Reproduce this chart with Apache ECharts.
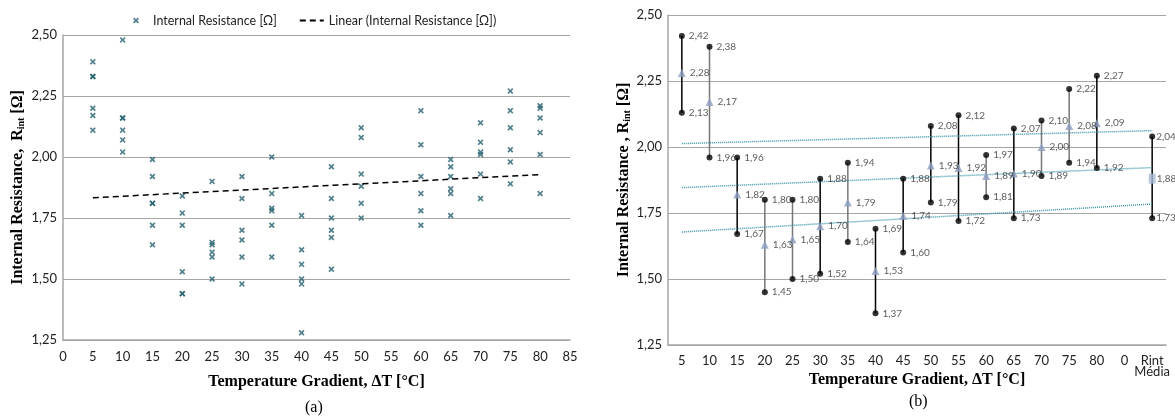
<!DOCTYPE html>
<html>
<head>
<meta charset="utf-8">
<script src="https://cdn.jsdelivr.net/npm/echarts@6/dist/echarts.min.js"></script>
<style>
  html, body { margin: 0; padding: 0; background: #fff; }
  #chart { width: 1175px; height: 417px; }
</style>
</head>
<body>
<div id="chart"></div>
<script>
// (a) scatter: internal resistance readings per temperature gradient
const gradients = [5, 10, 15, 20, 25, 30, 35, 40, 45, 50, 60, 65, 70, 75, 80];
const readings = [
  [2.39, 2.33, 2.33, 2.20, 2.17, 2.11],
  [2.48, 2.16, 2.16, 2.11, 2.07, 2.02],
  [1.99, 1.92, 1.81, 1.81, 1.72, 1.64],
  [1.84, 1.77, 1.72, 1.53, 1.44, 1.44],
  [1.90, 1.65, 1.64, 1.61, 1.59, 1.50],
  [1.92, 1.83, 1.70, 1.66, 1.59, 1.48],
  [2.00, 1.85, 1.79, 1.78, 1.72, 1.59],
  [1.76, 1.62, 1.56, 1.50, 1.48, 1.28],
  [1.96, 1.83, 1.75, 1.70, 1.67, 1.54],
  [2.12, 2.08, 1.93, 1.88, 1.81, 1.75],
  [2.19, 2.05, 1.92, 1.85, 1.78, 1.72],
  [1.99, 1.96, 1.92, 1.87, 1.85, 1.76],
  [2.14, 2.06, 2.02, 2.01, 1.93, 1.83],
  [2.27, 2.19, 2.12, 2.03, 1.98, 1.89],
  [2.21, 2.20, 2.16, 2.10, 2.01, 1.85]
];
const trendX = [5, 80];
const trendY = [1.833, 1.928];

// (b) high / low / average per category
const categories = ["5", "10", "15", "20", "25", "30", "35", "40", "45", "50", "55", "60", "65", "70", "75", "80", "0", "Rint\nMédia"];
const maxVals = [2.42, 2.38, 1.96, 1.80, 1.80, 1.88, 1.94, 1.69, 1.88, 2.08, 2.12, 1.97, 2.07, 2.10, 2.22, 2.27, null, 2.04];
const minVals = [2.13, 1.96, 1.67, 1.45, 1.50, 1.52, 1.64, 1.37, 1.60, 1.79, 1.72, 1.81, 1.73, 1.89, 1.94, 1.92, null, 1.73];
const avgVals = [2.28, 2.17, 1.82, 1.63, 1.65, 1.70, 1.79, 1.53, 1.74, 1.93, 1.92, 1.89, 1.90, 2.00, 2.08, 2.09, null, 1.88];
const maxTrend = [2.013, 2.062];
const avgTrend = [1.846, 1.922];
const minTrend = [1.678, 1.784];

const xTitle = "Temperature Gradient, ΔT [°C]";

const fmt = v => v.toFixed(2).replace(".", ",");
const tickFont = "Lato, 'Open Sans', sans-serif";
const serif = "'Liberation Serif', 'DejaVu Serif', serif";
const gridGray = "#a6a6a6";
const teal = "#27626f";
const xMark = "path://M0,2L2,0L5,3L8,0L10,2L7,5L10,8L8,10L5,7L2,10L0,8L3,5Z";
const greyStems = [1, 3, 4, 6, 11, 13, 14];
const lastIdx = categories.length - 1;

const scatterData = [];
gradients.forEach((g, i) => readings[i].forEach(v => scatterData.push([g, v])));

const stemData = maxVals.map((v, i) => [i, minVals[i], v]).filter(p => p[2] != null);
// points for (b); the "Rint Média" column gets its label tight to the marker
const pts = vals => vals.map((v, i) => [i, v]).filter(p => p[1] != null)
  .map(p => p[0] === lastIdx ? { value: p, label: { distance: 1 } } : p);

const yName = {
  b: { fontFamily: serif, fontWeight: "bold", fontSize: 16, color: "#000" },
  s: { fontFamily: serif, fontWeight: "bold", fontSize: 10, color: "#000", padding: [7, 0, 0, 0] }
};

const valueY = (gridIndex, name, gap) => ({
  type: "value",
  gridIndex,
  min: 1.25,
  max: 2.5,
  interval: 0.25,
  name,
  nameLocation: "middle",
  nameGap: gap,
  nameTextStyle: { rich: yName },
  axisLine: { show: true, lineStyle: { color: gridGray, width: 1.5 } },
  axisTick: { show: false },
  axisLabel: { formatter: fmt, fontFamily: tickFont, fontSize: 13, color: "#222", margin: 6 },
  splitLine: { lineStyle: { color: gridGray, width: 1.2 } }
});

const labelStyle = {
  show: true,
  position: "right",
  distance: 4,
  fontFamily: tickFont,
  fontSize: 10,
  color: "#333",
  formatter: p => fmt(p.value[1])
};

const titleFont = "bold 16px " + serif;

const chart = echarts.init(document.getElementById("chart"));
chart.setOption({
  animation: false,
  backgroundColor: "#fff",
  legend: {
    left: 128,
    top: 9,
    itemGap: 22,
    itemWidth: 24,
    itemHeight: 6,
    textStyle: { fontFamily: tickFont, fontSize: 12.5, color: "#222" },
    data: [
      { name: "Internal Resistance [Ω]" },
      { name: "Linear (Internal Resistance [Ω])", itemStyle: { opacity: 0 } }
    ]
  },
  grid: [
    { left: 63, top: 35, width: 507, height: 305 },
    { left: 668, top: 15, width: 498, height: 330 }
  ],
  xAxis: [
    {
      type: "value",
      gridIndex: 0,
      min: 0,
      max: 85,
      interval: 5,
      name: xTitle,
      nameLocation: "middle",
      nameGap: 34,
      nameTextStyle: { fontFamily: serif, fontWeight: "bold", fontSize: 16, color: "#000" },
      axisLine: { show: true, lineStyle: { color: gridGray, width: 1.5 } },
      axisTick: { show: false },
      axisLabel: { fontFamily: tickFont, fontSize: 13, color: "#222", margin: 10 },
      splitLine: { show: false }
    },
    {
      type: "category",
      gridIndex: 1,
      data: categories,
      axisLine: { show: true, lineStyle: { color: gridGray, width: 1.5 } },
      axisTick: { show: false },
      axisLabel: { fontFamily: tickFont, fontSize: 13, color: "#222", margin: 10, interval: 0, lineHeight: 11 },
      splitLine: { show: false }
    }
  ],
  yAxis: [
    valueY(0, "{b|Internal Resistance,  R}{s|int}{b| [Ω]}", 37),
    valueY(1, "{b|Internal Resistance , R}{s|int}{b| [Ω]}", 36)
  ],
  series: [
    {
      name: "Internal Resistance [Ω]",
      type: "scatter",
      xAxisIndex: 0,
      yAxisIndex: 0,
      symbol: xMark,
      symbolSize: 6,
      itemStyle: { color: teal },
      data: scatterData
    },
    {
      name: "Linear (Internal Resistance [Ω])",
      type: "line",
      xAxisIndex: 0,
      yAxisIndex: 0,
      symbol: "none",
      lineStyle: { color: "#000", width: 1.5, type: [6, 4] },
      itemStyle: { color: "#000" },
      data: trendX.map((x, i) => [x, trendY[i]])
    },
    {
      name: "stems",
      type: "custom",
      xAxisIndex: 1,
      yAxisIndex: 1,
      encode: { x: 0, y: [1, 2] },
      renderItem: (params, api) => {
        const idx = api.value(0);
        const lo = api.coord([idx, api.value(1)]);
        const hi = api.coord([idx, api.value(2)]);
        return {
          type: "line",
          shape: { x1: lo[0], y1: lo[1], x2: hi[0], y2: hi[1] },
          style: { stroke: greyStems.includes(idx) ? "#777" : "#000", lineWidth: 1.5 }
        };
      },
      data: stemData,
      z: 2
    },
    ...[["maxTrend", maxTrend], ["avgTrend", avgTrend], ["minTrend", minTrend]].map(([name, ends]) => ({
      name,
      type: "line",
      xAxisIndex: 1,
      yAxisIndex: 1,
      symbol: "none",
      lineStyle: { color: "#3a93ab", width: 1.5, type: [1, 1] },
      data: [[0, ends[0]], [lastIdx, ends[1]]],
      z: 3
    })),
    {
      name: "max",
      type: "scatter",
      xAxisIndex: 1,
      yAxisIndex: 1,
      symbol: "circle",
      symbolSize: 6,
      itemStyle: { color: "#000" },
      label: labelStyle,
      data: pts(maxVals),
      z: 4
    },
    {
      name: "min",
      type: "scatter",
      xAxisIndex: 1,
      yAxisIndex: 1,
      symbol: "circle",
      symbolSize: 6,
      itemStyle: { color: "#000" },
      label: labelStyle,
      data: pts(minVals),
      z: 4
    },
    {
      name: "avg",
      type: "scatter",
      xAxisIndex: 1,
      yAxisIndex: 1,
      symbol: "triangle",
      symbolSize: [8, 8],
      itemStyle: { color: "#8d9fc2" },
      label: labelStyle,
      data: pts(avgVals).map(p => p.value
        ? Object.assign(p, { symbol: "rect", symbolSize: [7, 10], itemStyle: { color: "#a9bad6" } })
        : p),
      z: 4
    }
  ],
  graphic: [
    // (b) x-axis title, placed by hand so the two-line category label doesn't push it down
    { type: "text", x: 917, y: 380, style: { text: xTitle, font: titleFont, fill: "#000", align: "center", verticalAlign: "middle" } },
    { type: "text", left: 305, top: 400, style: { text: "(a)", font: "16px " + serif, fill: "#000" } },
    { type: "text", left: 909, top: 394, style: { text: "(b)", font: "16px " + serif, fill: "#000" } }
  ]
});
</script>
</body>
</html>
